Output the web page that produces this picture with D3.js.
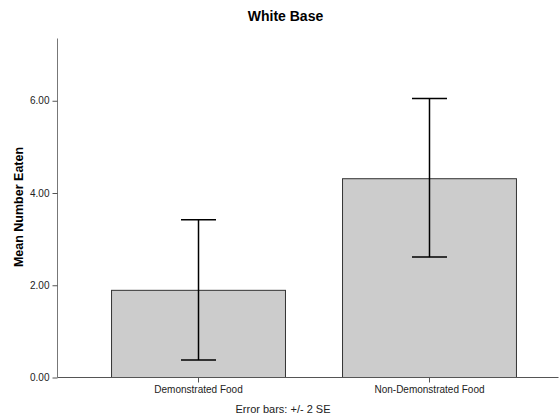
<!DOCTYPE html>
<html>
<head>
<meta charset="utf-8">
<script src="https://cdn.jsdelivr.net/npm/d3@7"></script>
<style>
  html, body { margin: 0; padding: 0; background: #fff; }
  svg { display: block; font-family: "Liberation Sans", Arial, sans-serif; }
</style>
</head>
<body>
<svg id="chart" width="559" height="418"></svg>
<script>
// Mean number eaten per food type, with +/- 2 SE limits
const categories = ["Demonstrated Food", "Non-Demonstrated Food"];
const means = [1.89, 4.31];
const errLow = [0.37, 2.60];
const errHigh = [3.41, 6.04];
const yTicks = [0, 2, 4, 6];

const svg = d3.select("#chart");

const y = d3.scaleLinear().domain([0, 7.35]).range([377, 38]);
const x = d3.scaleBand()
  .domain(categories)
  .range([69, 558])
  .paddingInner(0.247)
  .paddingOuter(0.182);

// Title
svg.append("text")
  .attr("x", 285.5).attr("y", 21)
  .attr("text-anchor", "middle")
  .style("font-size", "14px").style("font-weight", "bold")
  .attr("fill", "#000")
  .text("White Base");

// Bars
svg.append("g").selectAll("rect")
  .data(categories)
  .join("rect")
  .attr("x", d => x(d) + 0.5)
  .attr("y", (d, i) => y(means[i]) + 0.5)
  .attr("width", x.bandwidth())
  .attr("height", (d, i) => y(0) - y(means[i]))
  .attr("fill", "#cccccc")
  .attr("stroke", "#333")
  .attr("stroke-width", 1);

// Y axis
const yAxis = d3.axisLeft(y)
  .tickValues(yTicks)
  .tickFormat(d3.format(".2f"))
  .tickSize(5)
  .tickPadding(3);
const gy = svg.append("g").attr("transform", "translate(57.5,0.5)").call(yAxis);
gy.select(".domain").attr("d", `M0,${y.range()[1]}V${y(0)}`).attr("stroke", "#777");
gy.selectAll(".tick line").attr("stroke", "#555");
gy.selectAll(".tick text").style("font-size", "10px").attr("fill", "#222");

// X axis
const xAxis = d3.axisBottom(x).tickSize(5).tickPadding(3);
const gx = svg.append("g").attr("transform", `translate(0.5,${y(0) + 0.5})`).call(xAxis);
gx.select(".domain").attr("d", "M57,0H558").attr("stroke", "#555");
gx.selectAll(".tick line").attr("stroke", "#555");
gx.selectAll(".tick text").style("font-size", "10px").attr("fill", "#222");

// Error bars
const eb = svg.append("g").attr("stroke", "#000").attr("stroke-width", 1.5);
categories.forEach((c, i) => {
  const cx = x(c) + x.bandwidth() / 2 + 0.5;
  const half = 17.5;
  eb.append("line").attr("x1", cx).attr("x2", cx).attr("y1", y(errHigh[i])).attr("y2", y(errLow[i]));
  eb.append("line").attr("x1", cx - half).attr("x2", cx + half).attr("y1", y(errHigh[i])).attr("y2", y(errHigh[i]));
  eb.append("line").attr("x1", cx - half).attr("x2", cx + half).attr("y1", y(errLow[i])).attr("y2", y(errLow[i]));
});

// Y axis title
svg.append("text")
  .attr("transform", "translate(23,207) rotate(-90)")
  .attr("text-anchor", "middle")
  .style("font-size", "12.5px").style("font-weight", "bold")
  .attr("fill", "#000")
  .text("Mean Number Eaten");

// Footnote
svg.append("text")
  .attr("x", 283).attr("y", 413)
  .attr("text-anchor", "middle")
  .style("font-size", "11px")
  .attr("fill", "#222")
  .text("Error bars: +/- 2 SE");
</script>
</body>
</html>
